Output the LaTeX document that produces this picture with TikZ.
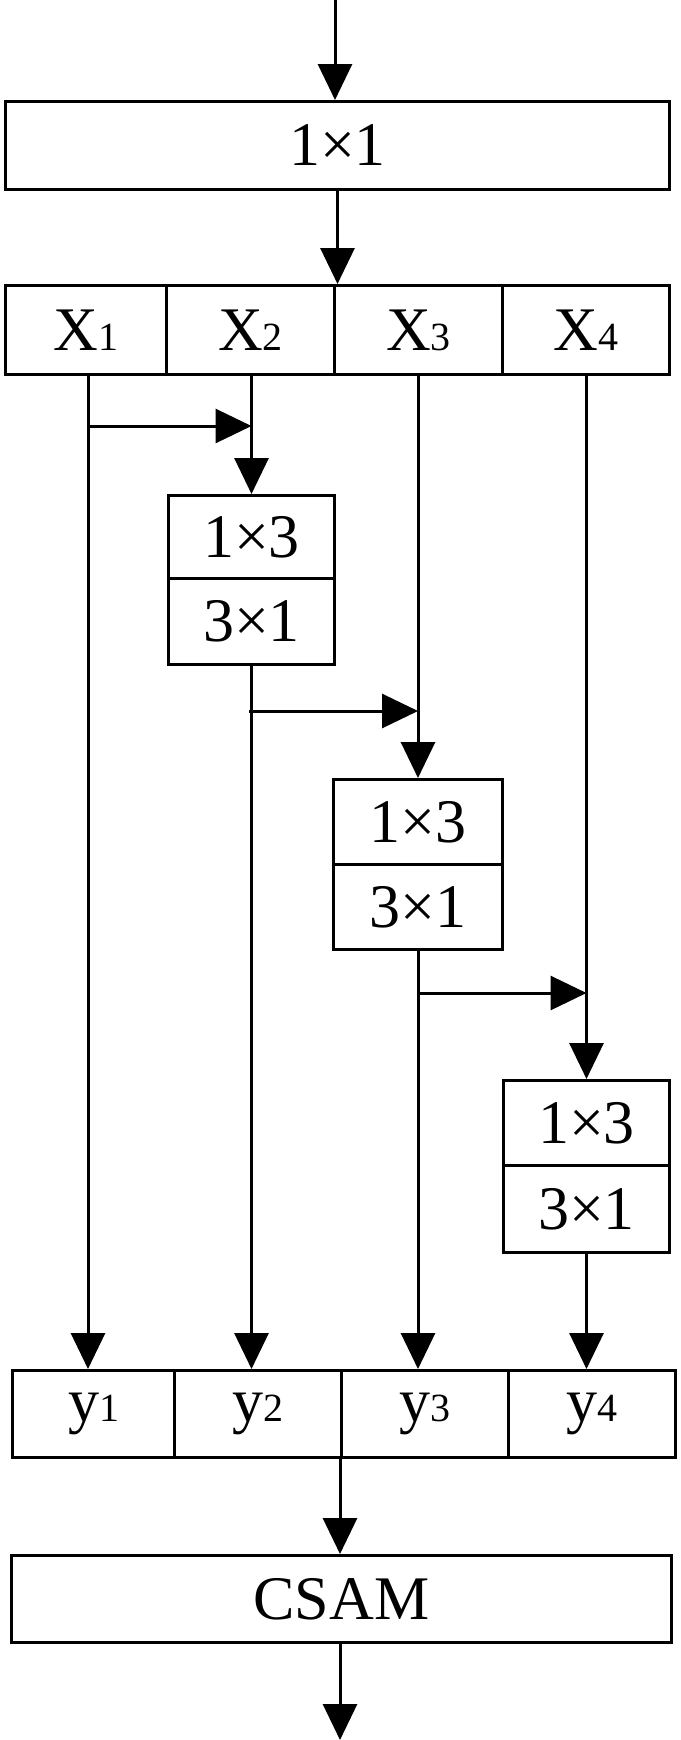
\documentclass[tikz,border=0pt]{standalone}
\usepackage{fontspec}
\setmainfont{Liberation Serif}
\usetikzlibrary{arrows.meta}
\begin{document}
\begin{tikzpicture}[x=1pt,y=-1pt,
  box/.style={draw,line width=3pt,inner sep=0pt,font=\fontsize{62}{62}\selectfont,anchor=north west},
  arr/.style={line width=3pt,-{Triangle[width=34pt,length=36pt]}},
  ln/.style={line width=3pt}]
\newcommand{\subx}[1]{{\fontsize{40}{40}\selectfont #1}}
\useasboundingbox (0,0) rectangle (680,1740);
\node[box,minimum width=664pt,minimum height=88pt] (c11) at (4,100) {1×1};
\node[box,minimum width=161pt,minimum height=89pt] (x1) at (4,284) {X\subx{1}};
\node[box,minimum width=168pt,minimum height=89pt] (x2) at (165,284) {X\subx{2}};
\node[box,minimum width=168pt,minimum height=89pt] (x3) at (333,284) {X\subx{3}};
\node[box,minimum width=167pt,minimum height=89pt] (x4) at (501,284) {X\subx{4}};
% composite boxes
\node[box,minimum width=166pt,minimum height=83pt] (a1) at (167,494) {1×3};
\node[box,minimum width=166pt,minimum height=86pt] (b1) at (167,577) {3×1};
\node[box,minimum width=169pt,minimum height=85pt] (a2) at (332,778) {1×3};
\node[box,minimum width=169pt,minimum height=85pt] (b2) at (332,863) {3×1};
\node[box,minimum width=166pt,minimum height=85pt] (a3) at (502,1079) {1×3};
\node[box,minimum width=166pt,minimum height=87pt] (b3) at (502,1164) {3×1};
% y row
\node[box,minimum width=162pt,minimum height=87pt] (y1) at (11,1369) {y\subx{1}};
\node[box,minimum width=167pt,minimum height=87pt] (y2) at (173,1369) {y\subx{2}};
\node[box,minimum width=167pt,minimum height=87pt] (y3) at (340,1369) {y\subx{3}};
\node[box,minimum width=167pt,minimum height=87pt] (y4) at (507,1369) {y\subx{4}};
\node[box,minimum width=660pt,minimum height=87pt] (csam) at (10,1554) {CSAM};
% coordinates
\coordinate (top) at (335,0);
\coordinate (bot) at (340,1740);
\coordinate (h1) at (88,426);
\coordinate (h2) at (249,711);
\coordinate (h3) at (417,993);
% connectors
\draw[arr] (top) -- (top |- c11.north);
\draw[arr] (c11.south) -- (c11.south |- x3.north west);
\draw[arr] (h1 |- x1.south) -- (h1 |- y1.north);
\draw[arr] (h1) -- (h1 -| a1.north);
\draw[arr] (a1.north |- x2.south) -- (a1.north);
\draw[arr] (b1.south) -- (b1.south |- y2.north);
\draw[arr] (h2) -- (h2 -| a2.north);
\draw[arr] (a2.north |- x3.south) -- (a2.north);
\draw[arr] (b2.south) -- (b2.south |- y3.north);
\draw[arr] (h3) -- (h3 -| a3.north);
\draw[arr] (a3.north |- x4.south) -- (a3.north);
\draw[arr] (b3.south) -- (b3.south |- y4.north);
\draw[arr] (y3.south west) -- (csam.north -| y3.south west);
\draw[arr] (csam.south -| bot) -- (bot);
\end{tikzpicture}
\end{document}
